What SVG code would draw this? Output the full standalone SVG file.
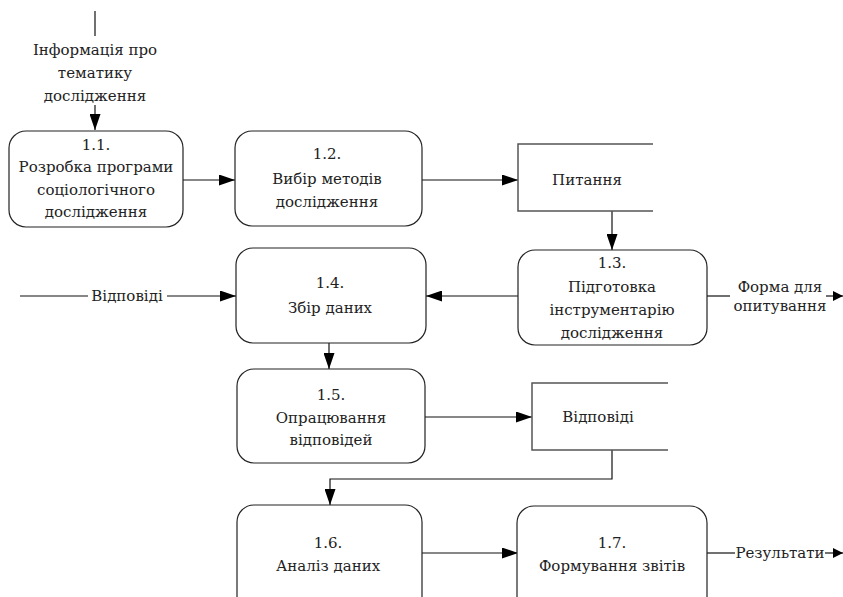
<svg xmlns="http://www.w3.org/2000/svg" width="843" height="597" viewBox="0 0 843 597">
<style>
text{font-family:"DejaVu Serif","Liberation Serif",serif;font-size:15px;fill:#222;text-anchor:middle;dominant-baseline:central}
.box{fill:#fff;stroke:#222;stroke-width:1.2}
.store{fill:none;stroke:#555;stroke-width:1.5}
.c{fill:none;stroke:#111;stroke-width:1.2}
</style>
<defs>
<marker id="ah" markerWidth="16" markerHeight="11" refX="16" refY="5.5" orient="auto" markerUnits="userSpaceOnUse">
<path d="M0,0 L16,5.5 L0,11 z" fill="#000"/>
</marker>
<marker id="ahs" markerWidth="10" markerHeight="10" refX="10" refY="5" orient="auto" markerUnits="userSpaceOnUse">
<path d="M0,0 L10,5 L0,10 z" fill="#000"/>
</marker>
</defs>
<rect width="843" height="597" fill="#fff"/>

<g id="connectors">
<line class="c" x1="95" y1="11" x2="95" y2="36"/>
<line class="c" x1="95" y1="105" x2="95" y2="130" marker-end="url(#ah)"/>
<text x="95" y="50">Інформація про</text>
<text x="95" y="73">тематику</text>
<text x="95" y="96">дослідження</text>
<line class="c" x1="183" y1="180" x2="235" y2="180" marker-end="url(#ah)"/>
<line class="c" x1="422" y1="180" x2="518" y2="180" marker-end="url(#ah)"/>
<line class="c" x1="612" y1="211" x2="612" y2="250" marker-end="url(#ah)"/>
<line class="c" x1="518" y1="296" x2="426" y2="296" marker-end="url(#ah)"/>
<line class="c" x1="20" y1="296" x2="88" y2="296"/>
<line class="c" x1="167" y1="296" x2="236" y2="296" marker-end="url(#ah)"/>
<text x="127" y="296">Відповіді</text>
<line class="c" x1="707" y1="296" x2="730" y2="296"/>
<line class="c" x1="826" y1="296" x2="843" y2="296" marker-end="url(#ahs)"/>
<text x="780" y="287">Форма для</text>
<text x="780" y="306">опитування</text>
<line class="c" x1="329" y1="343" x2="329" y2="369" marker-end="url(#ah)"/>
<line class="c" x1="425" y1="417" x2="532" y2="417" marker-end="url(#ah)"/>
<polyline class="c" points="612,450 612,479 330,479 330,505" marker-end="url(#ah)"/>
<line class="c" x1="422" y1="553" x2="518" y2="553" marker-end="url(#ah)"/>
<line class="c" x1="707" y1="553" x2="735" y2="553"/>
<line class="c" x1="825" y1="553" x2="843" y2="553" marker-end="url(#ahs)"/>
<text x="780" y="553">Результати</text>
</g>

<g id="n11">
<rect class="box" x="9" y="131" width="174" height="96" rx="17"/>
<text x="96" y="145">1.1.</text>
<text x="96" y="167">Розробка програми</text>
<text x="96" y="190">соціологічного</text>
<text x="96" y="212">дослідження</text>
</g>

<g id="n12">
<rect class="box" x="235" y="131" width="187" height="95" rx="17"/>
<text x="327" y="154">1.2.</text>
<text x="327" y="179">Вибір методів</text>
<text x="327" y="202">дослідження</text>
</g>

<g id="s_pytannia">
<path class="store" d="M653,144 L518,144 L518,211 L653,211"/>
<text x="587" y="180">Питання</text>
</g>

<g id="n13">
<rect class="box" x="518" y="250" width="189" height="95" rx="17"/>
<text x="612" y="263">1.3.</text>
<text x="612" y="287">Підготовка</text>
<text x="612" y="310">інструментарію</text>
<text x="612" y="333">дослідження</text>
</g>

<g id="n14">
<rect class="box" x="236" y="248" width="190" height="95" rx="17"/>
<text x="330" y="283">1.4.</text>
<text x="330" y="308">Збір даних</text>
</g>

<g id="n15">
<rect class="box" x="237" y="369" width="188" height="94" rx="17"/>
<text x="331" y="395">1.5.</text>
<text x="331" y="418">Опрацювання</text>
<text x="331" y="440">відповідей</text>
</g>

<g id="s_vidpovidi">
<path class="store" d="M668,383 L532,383 L532,450 L668,450"/>
<text x="598" y="417">Відповіді</text>
</g>

<g id="n16">
<rect class="box" x="237" y="505" width="185" height="110" rx="17"/>
<text x="328" y="543">1.6.</text>
<text x="328" y="566">Аналіз даних</text>
</g>

<g id="n17">
<rect class="box" x="517" y="506" width="190" height="110" rx="17"/>
<text x="612" y="543">1.7.</text>
<text x="612" y="566">Формування звітів</text>
</g>
</svg>
